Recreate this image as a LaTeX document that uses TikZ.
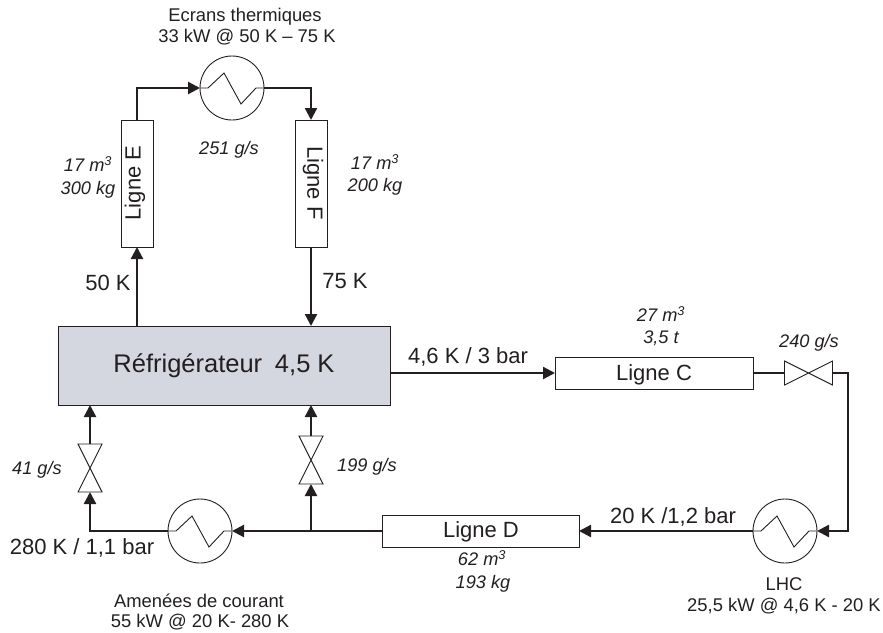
\documentclass[tikz,border=0pt]{standalone}
\usepackage{fontspec}
\setmainfont{Liberation Sans}
\usetikzlibrary{arrows.meta,calc}
\definecolor{ink}{HTML}{231F20}
\definecolor{fridge}{HTML}{D4D7E0}
\tikzset{
  x=1pt,y=-1pt,
  every node/.style={inner sep=0pt,outer sep=0pt,text=ink,align=center},
  linebox/.style={draw=ink,line width=0.9pt,fill=white,minimum width=#1},
  pipe/.style={draw=ink,line width=2.3pt},
  flow/.style={pipe,-{Triangle[length=12pt,width=12pt,fill=ink]}},
  hx/.style={circle,draw=ink,line width=0.9pt,fill=white,minimum size=64pt},
  valvev/.style={minimum width=24pt,minimum height=48pt},
  valveh/.style={minimum width=48pt,minimum height=24pt},
  thinline/.style={draw=ink,line width=0.9pt},
  big/.style={font=\fontsize{22}{26}\selectfont},
  mid/.style={font=\fontsize{18.4}{22}\selectfont},
  note/.style={font=\fontsize{18.2}{22}\selectfont\itshape},
}
\newcommand{\zigzag}[1]{%
  \draw[thinline,line join=miter] (#1.west) -- ++(8,0) -- ++(16,-15) -- ++(17,31) -- ++(15,-16) -- (#1.east);}
\newcommand{\bowv}[1]{%
  \draw[thinline,fill=white] (#1.north west) -- (#1.south east) -- (#1.south west) -- (#1.north east) -- cycle;}
\newcommand{\bowh}[1]{%
  \draw[thinline,fill=white] (#1.north west) -- (#1.south east) -- (#1.north east) -- (#1.south west) -- cycle;}
\begin{document}
\begin{tikzpicture}
\useasboundingbox (0,0) rectangle (883,632);
% equipment
\node[linebox=32pt,minimum height=127pt] (E) at (137,183.5) {};
\node[linebox=32pt,minimum height=127pt] (F) at (311,183.5) {};
\node[draw=ink,line width=1pt,fill=fridge,minimum width=332pt,minimum height=79pt] (R) at (224,365.5) {};
\node[linebox=198pt,minimum height=32pt] (C) at (654,373) {};
\node[linebox=197pt,minimum height=32pt] (D) at (480.5,531) {};
\node[hx] (H1) at (232,88) {};
\node[hx] (H2) at (200,531) {};
\node[hx] (H3) at (785,531) {};
\node[valvev] (V1) at (90,468) {};
\node[valvev] (V2) at (311,460) {};
\node[valveh] (V3) at (808.5,373) {};
\coordinate (T) at (311,531);
\coordinate (K) at (848,373);
% connectors
\draw[flow] (E.south |- R.north) -- (E.south);
\draw[flow] (E.north) |- (H1.west);
\draw[flow] (H1.east) -| (F.north);
\draw[flow] (F.south) -- (F.south |- R.north);
\draw[flow] (C.west -| R.east) -- (C.west);
\draw[pipe] (C.east) -- (V3.west);
\draw[flow] (V3.east) -- (K) |- (H3.east);
\draw[flow] (H3.west) -- (D.east);
\draw[flow] (D.west) -- (H2.east);
\draw[flow] (H2.west) -| (V1.south);
\draw[flow] (V1.north) -- (V1.north |- R.south);
\draw[pipe] (D.west -| T) -- (T);
\draw[flow] (T) -- (V2.south);
\draw[flow] (V2.north) -- (V2.north |- R.south);
% symbols
\zigzag{H1}\zigzag{H2}\zigzag{H3}
\bowv{V1}\bowv{V2}\bowh{V3}
% labels
\node[mid] (t1) at (245,17) {Ecrans thermiques};
\node[mid] (t2) at (247,37) {33 kW @ 50 K – 75 K};
\node[note] (t3) at (229,150) {251 g/s};
\node[note] (t4) at (88,164) {17 m\textsuperscript{3}};
\node[note] (t5) at (88,190) {300 kg};
\node[note] (t6) at (375,162) {17 m\textsuperscript{3}};
\node[note] (t7) at (375,187) {200 kg};
\node[big,rotate=90] (t8) at (135,183) {Ligne E};
\node[big,rotate=-90] (t9) at (313,183) {Ligne F};
\node[big] (t10) at (108,283) {50 K};
\node[big] (t11) at (345,281) {75 K};
\node[font=\fontsize{25.5}{30}\selectfont] (t12) at (224,366) {Réfrigérateur\hspace{0.5em}4,5 K};
\node[big] (t13) at (468,357) {4,6 K / 3 bar};
\node[note] (t14) at (661,314) {27 m\textsuperscript{3}};
\node[note] (t15) at (661,338) {3,5 t};
\node[note] (t16) at (809,343) {240 g/s};
\node[big] (t17) at (654,375) {Ligne C};
\node[big] (t18) at (673,517) {20 K /1,2 bar};
\node[big] (t19) at (481,532) {Ligne D};
\node[note] (t20) at (482,558) {62 m\textsuperscript{3}};
\node[note] (t21) at (483,584) {193 kg};
\node[note] (t22) at (37,470) {41 g/s};
\node[note] (t23) at (367,467) {199 g/s};
\node[big] (t24) at (82,548) {280 K / 1,1 bar};
\node[mid] (t25) at (199,601) {Amenées de courant};
\node[mid] (t26) at (200,622) {55 kW @ 20 K- 280 K};
\node[mid] (t27) at (784,584) {LHC};
\node[mid] (t28) at (784,606) {25,5 kW @ 4,6 K - 20 K};
\end{tikzpicture}
\end{document}
